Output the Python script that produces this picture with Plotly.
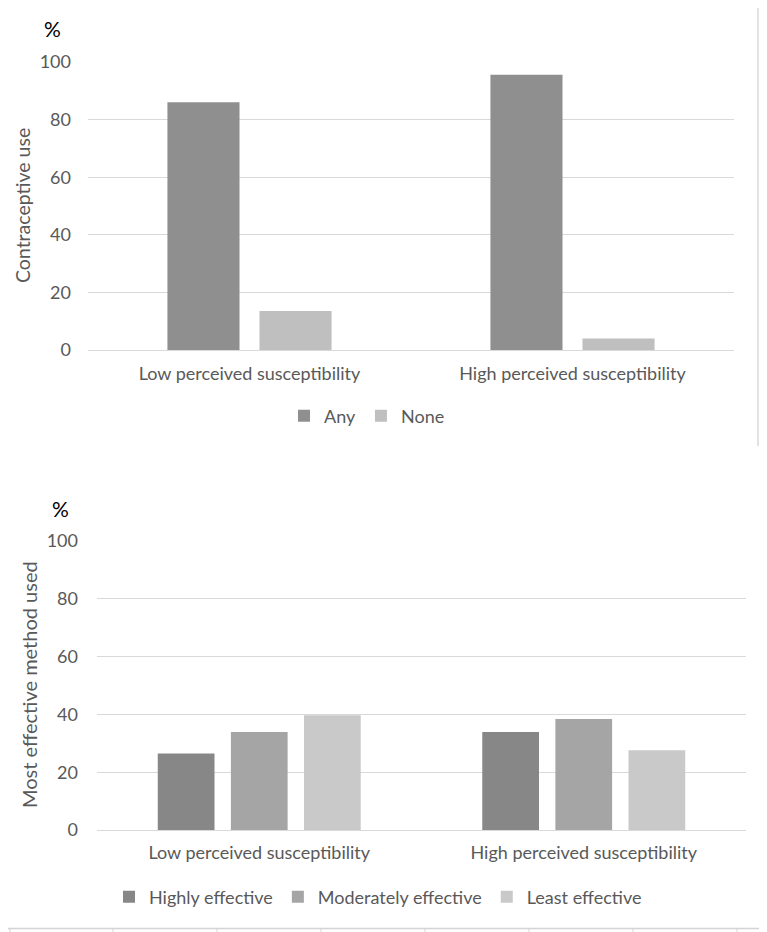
import plotly.graph_objects as go

# Page body has an 8px margin; the figure is placed so that its content lands on the
# 767x932 window the same way as the reference.
OFF = 8
W, H = 767 - OFF, 932 - OFF

categories = ["Low perceived susceptibility", "High perceived susceptibility"]

top_series = ["Any", "None"]
top_values = {"Any": [86.0, 95.6], "None": [13.5, 4.0]}
top_colors = {"Any": "#8f8f8f", "None": "#bfbfbf"}

bot_series = ["Highly effective", "Moderately effective", "Least effective"]
bot_values = {
    "Highly effective": [26.5, 33.9],
    "Moderately effective": [33.9, 38.4],
    "Least effective": [39.7, 27.6],
}
bot_colors = {"Highly effective": "#878787", "Moderately effective": "#a5a5a5", "Least effective": "#c9c9c9"}

y_ticks = [0, 20, 40, 60, 80, 100]

FONT = "Lato"
TICK_COLOR = "#595959"
GRID = "#d9d9d9"


def px_x(p):
    return (p - OFF) / W


def px_y(p):
    return 1 - (p - OFF) / H


fig = go.Figure()
for s in top_series:
    fig.add_trace(go.Bar(x=categories, y=top_values[s], name=s, marker_color=top_colors[s],
                         marker_line_width=0, xaxis="x", yaxis="y", legend="legend",
                         offsetgroup=s))
for s in bot_series:
    fig.add_trace(go.Bar(x=categories, y=bot_values[s], name=s, marker_color=bot_colors[s],
                         marker_line_width=0, xaxis="x2", yaxis="y2", legend="legend2",
                         offsetgroup=s))

tick_font = dict(family=FONT, size=18, color=TICK_COLOR)
axis_common = dict(showline=False, ticks="", tickfont=tick_font, automargin=False)
yaxis_common = dict(range=[0, 100], tickvals=y_ticks, showgrid=True, gridcolor=GRID, gridwidth=1,
                    zeroline=True, zerolinecolor=GRID, zerolinewidth=1, fixedrange=True,
                    **axis_common)

fig.update_layout(
    width=W, height=H,
    margin=dict(l=0, r=0, t=0, b=0, autoexpand=False),
    paper_bgcolor="white", plot_bgcolor="white",
    barmode="group",
    bargap=0.43, bargroupgap=0.217,
    xaxis=dict(domain=[px_x(88), px_x(734)], anchor="y", ticklabelstandoff=11, **axis_common),
    yaxis=dict(domain=[px_y(350), px_y(62)], anchor="x", ticklabelstandoff=16, **yaxis_common),
    xaxis2=dict(domain=[px_x(97), px_x(746)], anchor="y2", ticklabelstandoff=10, **axis_common),
    yaxis2=dict(domain=[px_y(830), px_y(541)], anchor="x2", ticklabelstandoff=18, **yaxis_common),
    legend=dict(orientation="h", x=px_x(367), xanchor="center", y=px_y(416), yanchor="middle",
                font=dict(family=FONT, size=18, color=TICK_COLOR), itemwidth=30,
                bgcolor="rgba(0,0,0,0)"),
    legend2=dict(orientation="h", x=px_x(378), xanchor="center", y=px_y(897), yanchor="middle",
                 font=dict(family=FONT, size=18, color=TICK_COLOR), itemwidth=30,
                 bgcolor="rgba(0,0,0,0)"),
    showlegend=True,
)

# bottom chart has its own bar spacing (bargap is global), so set width/offset per trace
n = len(bot_series)
group_frac = 0.676
slot = group_frac / n
bar_w = slot * (1 - 0.224)
for i, s in enumerate(bot_series):
    off = -group_frac / 2 + i * slot + (slot - bar_w) / 2
    fig.update_traces(selector=dict(name=s), width=bar_w, offset=off)

annotations = [
    dict(text="%", x=px_x(52), y=px_y(28), xref="paper", yref="paper", showarrow=False,
         xanchor="center", yanchor="middle", font=dict(family=FONT, size=21, color="#000000")),
    dict(text="Contraceptive use", x=px_x(22), y=px_y(206), xref="paper", yref="paper",
         showarrow=False, textangle=-90, xanchor="center", yanchor="middle",
         font=dict(family=FONT, size=19.5, color=TICK_COLOR)),
    dict(text="%", x=px_x(60), y=px_y(508), xref="paper", yref="paper", showarrow=False,
         xanchor="center", yanchor="middle", font=dict(family=FONT, size=21, color="#000000")),
    dict(text="Most effective method used", x=px_x(29), y=px_y(685), xref="paper", yref="paper",
         showarrow=False, textangle=-90, xanchor="center", yanchor="middle",
         font=dict(family=FONT, size=20, color=TICK_COLOR)),
]
fig.update_layout(annotations=annotations)

shapes = [
    dict(type="line", xref="paper", yref="paper", x0=px_x(758), x1=px_x(758), y0=px_y(0), y1=px_y(446),
         line=dict(color="#d9d9d9", width=1.5)),
    dict(type="line", xref="paper", yref="paper", x0=0, x1=1, y0=px_y(928.5), y1=px_y(928.5),
         line=dict(color="#d4d4d4", width=1.5)),
]
for xv in [10, 113, 217, 321, 425, 529, 633, 737]:
    shapes.append(dict(type="line", xref="paper", yref="paper", x0=px_x(xv), x1=px_x(xv),
                       y0=px_y(929), y1=0, line=dict(color="#d4d4d4", width=1)))
fig.update_layout(shapes=shapes)

fig.write_html("out.html")
